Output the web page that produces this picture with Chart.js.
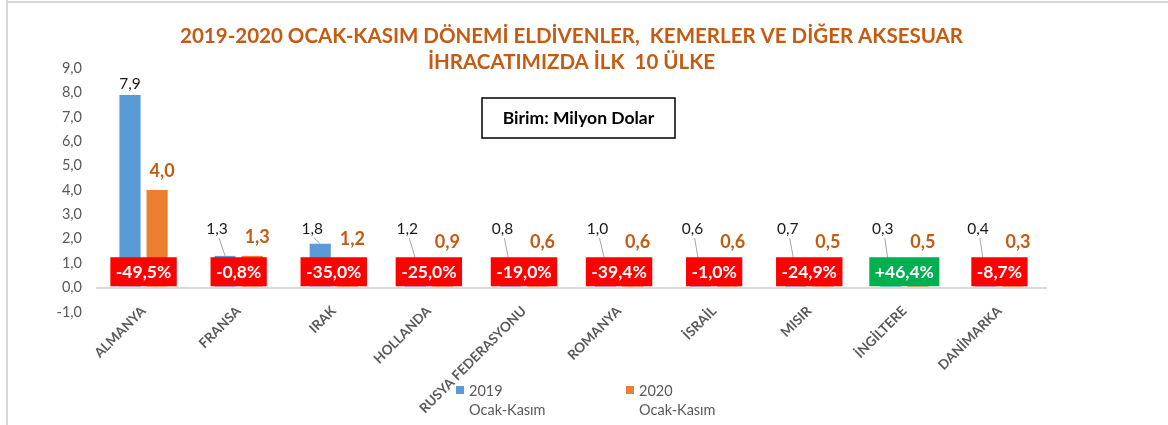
<!DOCTYPE html>
<html>
<head>
<meta charset="utf-8">
<script src="https://cdn.jsdelivr.net/npm/chart.js@4.4.1/dist/chart.umd.min.js"></script>
<style>
  html, body { margin: 0; padding: 0; background: #ffffff; }
  #wrap { width: 1168px; height: 425px; position: relative; }
</style>
</head>
<body>
<div id="wrap"><canvas id="c" width="1168" height="425"></canvas></div>
<script>
// ---- data ----
const categories = ['ALMANYA', 'FRANSA', 'IRAK', 'HOLLANDA', 'RUSYA FEDERASYONU', 'ROMANYA', 'İSRAİL', 'MISIR', 'İNGİLTERE', 'DANİMARKA'];
const values2019 = [7.9, 1.3, 1.8, 1.2, 0.8, 1.0, 0.6, 0.7, 0.3, 0.4];
const values2020 = [4.0, 1.3, 1.2, 0.9, 0.6, 0.6, 0.6, 0.5, 0.5, 0.3];
const changePct = [-49.5, -0.8, -35.0, -25.0, -19.0, -39.4, -1.0, -24.9, 46.4, -8.7];
const seriesLabels = [['2019', 'Ocak-Kasım'], ['2020', 'Ocak-Kasım']];
const titleLines = ['2019-2020 OCAK-KASIM DÖNEMİ ELDİVENLER,  KEMERLER VE DİĞER AKSESUAR', 'İHRACATIMIZDA İLK  10 ÜLKE'];
const unitText = 'Birim: Milyon Dolar';
const yMin = -1, yMax = 9, yStep = 1;

const FONT = 'Lato, "Open Sans", "Liberation Sans", sans-serif';
const fmt1 = v => v.toFixed(1).replace('.', ',');
const fmtPct = v => (v > 0 ? '+' : '') + v.toFixed(1).replace('.', ',') + '%';

const decorPlugin = {
  id: 'decor',
  afterLayout(chart) {
    // pull the category labels up so they start just under the zero line
    chart.scales.x.top -= 17;
  },
  beforeDraw(chart) {
    const ctx = chart.ctx;
    ctx.save();
    ctx.strokeStyle = '#d9d9d9';
    ctx.lineWidth = 2;
    ctx.beginPath();
    ctx.moveTo(7, 0); ctx.lineTo(7, chart.height);
    ctx.moveTo(7, 2); ctx.lineTo(chart.width, 2);
    ctx.stroke();
    ctx.restore();
  },
  afterDraw(chart) {
    const ctx = chart.ctx;
    // unit box
    ctx.save();
    const bx = 482, by = 98, bw = 193, bh = 40;
    ctx.strokeStyle = '#000000';
    ctx.lineWidth = 1.5;
    ctx.strokeRect(bx, by, bw, bh);
    ctx.fillStyle = '#000000';
    ctx.font = 'bold 17.5px ' + FONT;
    ctx.textAlign = 'center';
    ctx.textBaseline = 'middle';
    ctx.fillText(unitText, bx + bw / 2, by + bh / 2);
    ctx.restore();

    // legend
    ctx.save();
    const legendStart = [456, 626];
    chart.data.datasets.forEach((ds, i) => {
      const x = legendStart[i];
      ctx.fillStyle = ds.backgroundColor;
      ctx.fillRect(x, 386, 8, 8);
      ctx.fillStyle = '#595959';
      ctx.font = '14.5px ' + FONT;
      ctx.textAlign = 'left';
      ctx.textBaseline = 'middle';
      ds.label.forEach((line, j) => {
        ctx.fillText(line, x + 13, 391 + j * 19);
      });
    });
    ctx.restore();
  }
};

const labelsPlugin = {
  id: 'valueLabels',
  afterDatasetsDraw(chart) {
    const ctx = chart.ctx;
    const y = chart.scales.y;
    const x = chart.scales.x;
    const m0 = chart.getDatasetMeta(0).data;
    const m1 = chart.getDatasetMeta(1).data;
    ctx.save();
    // 2019 labels (black, with leader lines when moved)
    const floor0 = y.getPixelForValue(2.4);
    m0.forEach((bar, i) => {
      let ly = bar.y - 11;
      let lx = bar.x;
      let moved = false;
      if (ly > floor0) { ly = floor0; lx = bar.x - 8; moved = true; }
      if (moved) {
        ctx.strokeStyle = '#a6a6a6';
        ctx.lineWidth = 1;
        ctx.beginPath();
        ctx.moveTo(lx + 2, ly + 9);
        ctx.lineTo(bar.x, bar.y);
        ctx.stroke();
      }
      ctx.fillStyle = '#1a1a1a';
      ctx.font = '15.5px ' + FONT;
      ctx.textAlign = 'center';
      ctx.textBaseline = 'middle';
      ctx.fillText(fmt1(values2019[i]), lx, ly);
    });
    // 2020 labels (orange bold)
    const floor1 = y.getPixelForValue(1.85);
    m1.forEach((bar, i) => {
      let ly = Math.min(bar.y - 19, floor1);
      ctx.fillStyle = '#C55A11';
      ctx.font = 'bold 18px ' + FONT;
      ctx.textAlign = 'center';
      ctx.textBaseline = 'middle';
      ctx.fillText(fmt1(values2020[i]), bar.x + 5, ly);
    });
    // change boxes
    const cy = y.getPixelForValue(0.65);
    ctx.font = 'bold 17.5px ' + FONT;
    changePct.forEach((p, i) => {
      const cx = x.getPixelForValue(i);
      const t = fmtPct(p);
      const w = ctx.measureText(t).width + 11;
      const h = 29;
      ctx.fillStyle = p > 0 ? '#00B050' : '#FF0000';
      ctx.fillRect(cx - w / 2, cy - h / 2, w, h);
      ctx.fillStyle = '#ffffff';
      ctx.textAlign = 'center';
      ctx.textBaseline = 'middle';
      ctx.fillText(t, cx, cy + 1);
    });
    ctx.restore();
  }
};

new Chart(document.getElementById('c'), {
  type: 'bar',
  data: {
    labels: categories,
    datasets: [
      { label: seriesLabels[0], data: values2019, backgroundColor: '#5B9BD5' },
      { label: seriesLabels[1], data: values2020, backgroundColor: '#ED7D31' }
    ]
  },
  options: {
    responsive: false,
    animation: false,
    devicePixelRatio: 1,
    categoryPercentage: 0.57,
    barPercentage: 0.78,
    layout: { padding: { left: 40, right: 121, top: 0, bottom: 0 } },
    plugins: {
      legend: { display: false },
      tooltip: { enabled: false },
      title: {
        display: true,
        text: titleLines,
        fullSize: false,
        color: '#C55A11',
        font: { family: FONT, size: 20.5, weight: 'bold', lineHeight: 1.27 },
        padding: { top: 23, bottom: -7 }
      }
    },
    scales: {
      x: {
        grid: { display: false },
        border: { display: false },
        ticks: {
          color: '#595959',
          font: { family: FONT, size: 13.5, weight: 'bold' },
          minRotation: 45,
          maxRotation: 45,
          padding: 0,
          autoSkip: false
        },
        afterFit(scale) { scale.height = 113; }
      },
      y: {
        min: yMin,
        max: yMax,
        grid: {
          color: ctx => (ctx.tick && ctx.tick.value === 0 ? '#d9d9d9' : 'rgba(0,0,0,0)'),
          lineWidth: 2,
          drawTicks: false
        },
        border: { display: false },
        ticks: {
          stepSize: yStep,
          color: '#595959',
          font: { family: FONT, size: 14.5 },
          padding: 14,
          callback: v => fmt1(v)
        },
        afterFit(scale) { scale.width = 56; }
      }
    }
  },
  plugins: [decorPlugin, labelsPlugin]
});
</script>
</body>
</html>
